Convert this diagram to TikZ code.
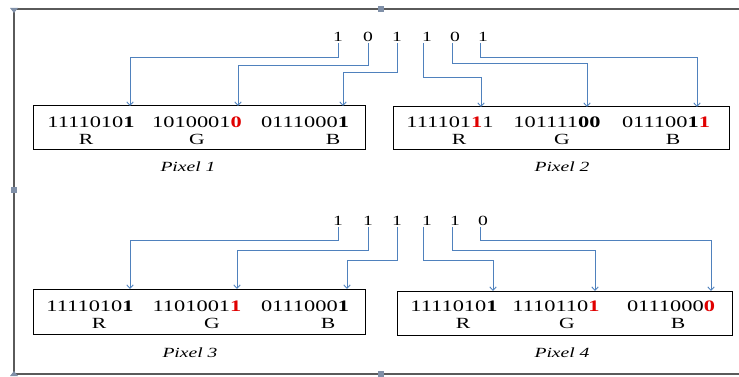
\documentclass[tikz,border=0pt]{standalone}
\usepackage{fontspec}
\setmainfont{Liberation Serif}
\usetikzlibrary{arrows.meta}
\definecolor{connblue}{HTML}{4F81BD}
\definecolor{framegray}{HTML}{5A5A5A}
\definecolor{handle}{HTML}{8090A8}
\definecolor{chg}{HTML}{E00000}
\newcommand{\widetxt}[1]{\scalebox{1.4}[1]{#1}}
\newcommand{\rb}[1]{\textcolor{chg}{\textbf{#1}}}
\tikzset{
  bitsel/.style={inner sep=1pt, font=\fontsize{14}{16}\selectfont},
  bits/.style={inner sep=0pt, font=\fontsize{16}{18}\selectfont},
  chan/.style={inner sep=0pt, font=\fontsize{15.5}{17}\selectfont},
  pixlabel/.style={inner sep=0pt, font=\fontsize{14}{16}\selectfont\itshape},
  pixbox/.style={draw=black, line width=1pt},
  conn/.style={draw=connblue, line width=0.9pt, -{Straight Barb[length=3.5pt,width=6.5pt]}},
  frameline/.style={draw=framegray, line width=1.5pt},
  hdl/.style={fill=handle, draw=none}
}
\begin{document}
\begin{tikzpicture}[x=1pt,y=-1pt]
\useasboundingbox (0,0) rectangle (739,377);
% outer frame
\draw[frameline] (739,9) -- (14,9) -- (14,374) -- (739,374);
\fill[hdl] (377.5,6) rectangle (383.5,12);
\fill[hdl] (11,187) rectangle (17,193);
\fill[hdl] (377.5,371) rectangle (383.5,377);
\fill[hdl] (10,8) -- (18,8) -- (14,13) -- cycle;
\fill[hdl] (10,376) -- (18,376) -- (14,371) -- cycle;

% boxes
\node[pixbox, minimum width=332pt, minimum height=44pt] (p1) at (199,128) {};
\node[pixbox, minimum width=336pt, minimum height=43pt] (p2) at (561,128.5) {};
\node[pixbox, minimum width=332pt, minimum height=45pt] (p3) at (199,311.5) {};
\node[pixbox, minimum width=335pt, minimum height=44pt] (p4) at (564.5,313) {};

% pixel 1 contents
\node[bits] (p1r) at (91,122) {\widetxt{1111010\textbf{1}}};
\node[bits] (p1g) at (197,122) {\widetxt{1010001\rb{0}}};
\node[bits] (p1b) at (305,122) {\widetxt{0111000\textbf{1}}};
\node[chan] (p1R) at (86,139) {\widetxt{R}};
\node[chan] (p1G) at (197,139) {\widetxt{G}};
\node[chan] (p1B) at (333,139) {\widetxt{B}};
\node[pixlabel] (l1) at (188,167) {\widetxt{Pixel 1}};

% pixel 2 contents
\node[bits] (p2r) at (450,122) {\widetxt{111101\rb{1}1}};
\node[bits] (p2g) at (557,122) {\widetxt{101111\textbf{00}}};
\node[bits] (p2b) at (666,122) {\widetxt{011100\textbf{1}\rb{1}}};
\node[chan] (p2R) at (459,139) {\widetxt{R}};
\node[chan] (p2G) at (562,139) {\widetxt{G}};
\node[chan] (p2B) at (673,139) {\widetxt{B}};
\node[pixlabel] (l2) at (562,167) {\widetxt{Pixel 2}};

% pixel 3 contents
\node[bits] (p3r) at (90,306) {\widetxt{1111010\textbf{1}}};
\node[bits] (p3g) at (197,306) {\widetxt{1101001\rb{1}}};
\node[bits] (p3b) at (305,306) {\widetxt{0111000\textbf{1}}};
\node[chan] (p3R) at (99,323) {\widetxt{R}};
\node[chan] (p3G) at (212,323) {\widetxt{G}};
\node[chan] (p3B) at (328,323) {\widetxt{B}};
\node[pixlabel] (l3) at (190,353) {\widetxt{Pixel 3}};

% pixel 4 contents
\node[bits] (p4r) at (454,306) {\widetxt{1111010\textbf{1}}};
\node[bits] (p4g) at (556,306) {\widetxt{1110110\rb{1}}};
\node[bits] (p4b) at (671,306) {\widetxt{0111000\rb{0}}};
\node[chan] (p4R) at (463,323) {\widetxt{R}};
\node[chan] (p4G) at (567,323) {\widetxt{G}};
\node[chan] (p4B) at (678,323) {\widetxt{B}};
\node[pixlabel] (l4) at (562,353) {\widetxt{Pixel 4}};

% secret bits, top
\node[bitsel] (t1) at (338,37) {\widetxt{1}};
\node[bitsel] (t2) at (368,37) {\widetxt{0}};
\node[bitsel] (t3) at (397,37) {\widetxt{1}};
\node[bitsel] (t4) at (427,37) {\widetxt{1}};
\node[bitsel] (t5) at (455,37) {\widetxt{0}};
\node[bitsel] (t6) at (483,37) {\widetxt{1}};
% secret bits, bottom
\node[bitsel] (b1) at (338,221) {\widetxt{1}};
\node[bitsel] (b2) at (368,221) {\widetxt{1}};
\node[bitsel] (b3) at (397,221) {\widetxt{1}};
\node[bitsel] (b4) at (427,221) {\widetxt{1}};
\node[bitsel] (b5) at (455,221) {\widetxt{1}};
\node[bitsel] (b6) at (483,221) {\widetxt{0}};

% arrow targets
\coordinate (a1) at (130,106);
\coordinate (a2) at (238,106);
\coordinate (a3) at (343,106);
\coordinate (a4) at (481,107);
\coordinate (a5) at (587,107);
\coordinate (a6) at (697,107);
\coordinate (c1) at (130,289);
\coordinate (c2) at (237,289);
\coordinate (c3) at (347,289);
\coordinate (c4) at (493,291);
\coordinate (c5) at (595,291);
\coordinate (c6) at (711,291);

% connectors top
\draw[conn] (t1.south) |- (130,57) -- (a1);
\draw[conn] (t2.south) |- (238,65) -- (a2);
\draw[conn] (t3.south) |- (343,72) -- (a3);
\draw[conn] ([xshift=-4pt]t4.south) |- (481,77) -- (a4);
\draw[conn] ([xshift=-3pt]t5.south) |- (587,63) -- (a5);
\draw[conn] ([xshift=-3pt]t6.south) |- (697,57) -- (a6);
% connectors bottom
\draw[conn] (b1.south) |- (130,240) -- (c1);
\draw[conn] (b2.south) |- (237,250) -- (c2);
\draw[conn] (b3.south) |- (347,260) -- (c3);
\draw[conn] ([xshift=-4pt]b4.south) |- (493,260) -- (c4);
\draw[conn] ([xshift=-3pt]b5.south) |- (595,250) -- (c5);
\draw[conn] ([xshift=-3pt]b6.south) |- (711,240) -- (c6);
\end{tikzpicture}
\end{document}
